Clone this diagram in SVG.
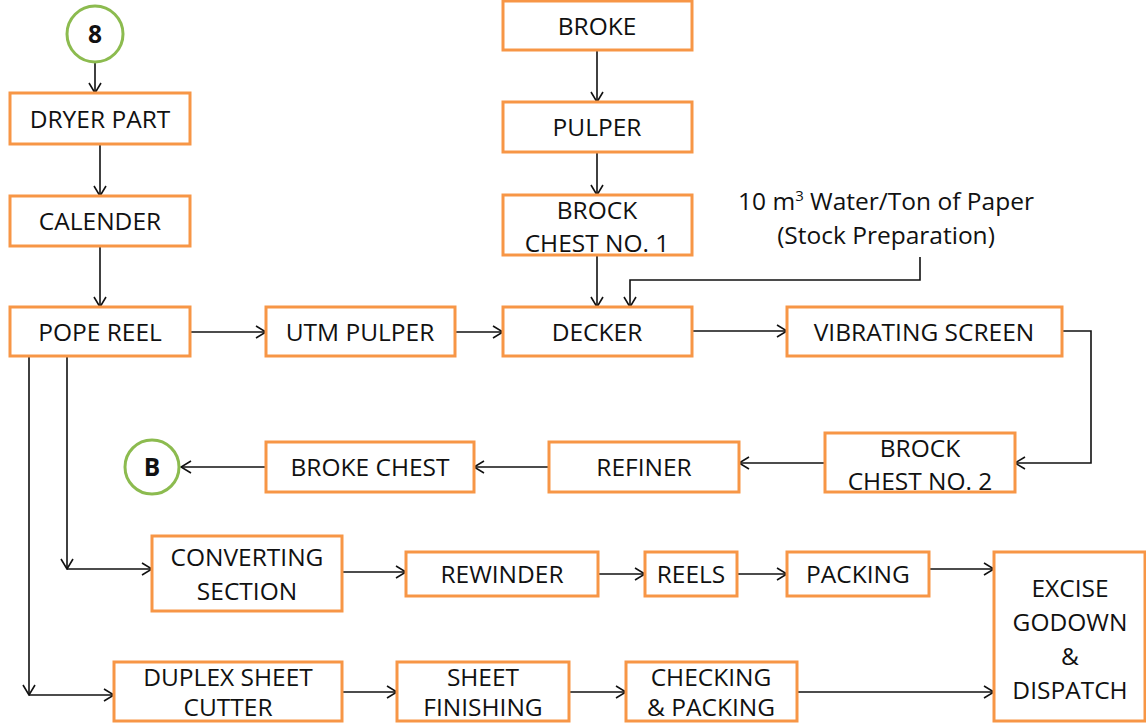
<svg xmlns="http://www.w3.org/2000/svg" width="1146" height="723" viewBox="0 0 1146 723">
<style>
.box{fill:#fff;stroke:#f79646;stroke-width:3}
.circ{fill:#fff;stroke:#8cbb4f;stroke-width:3}
text{font-family:"Open Sans","Liberation Sans",sans-serif;font-size:24.5px;fill:#111;text-anchor:middle}
.b{font-weight:bold}
.c path{fill:none;stroke:#111;stroke-width:1.6}
</style>
<defs>
<marker id="a" viewBox="0 0 12 14" refX="11" refY="7" markerWidth="12" markerHeight="14" markerUnits="userSpaceOnUse" orient="auto">
<path d="M1,1 L11,7 L1,13" fill="none" stroke="#111" stroke-width="1.6"/>
</marker>
</defs>
<g class="c">
<path d="M95,62 V93" marker-end="url(#a)"/>
<path d="M100,144 V196" marker-end="url(#a)"/>
<path d="M100,246 V307" marker-end="url(#a)"/>
<path d="M190,332 H266" marker-end="url(#a)"/>
<path d="M455,332 H503" marker-end="url(#a)"/>
<path d="M692,331 H787" marker-end="url(#a)"/>
<path d="M1062,331 H1091 V463 H1015" marker-end="url(#a)"/>
<path d="M825,463 H739" marker-end="url(#a)"/>
<path d="M549,467 H474" marker-end="url(#a)"/>
<path d="M266,467 H181" marker-end="url(#a)"/>
<path d="M597,50 V102" marker-end="url(#a)"/>
<path d="M597,152 V195" marker-end="url(#a)"/>
<path d="M597,255 V307" marker-end="url(#a)"/>
<path d="M920,257 V280 H630 V307" marker-end="url(#a)"/>
<path d="M67,356 V569" marker-end="url(#a)"/>
<path d="M67,569 H152" marker-end="url(#a)"/>
<path d="M29,356 V695" marker-end="url(#a)"/>
<path d="M29,695 H114" marker-end="url(#a)"/>
<path d="M342,572 H406" marker-end="url(#a)"/>
<path d="M598,574 H645" marker-end="url(#a)"/>
<path d="M737,574 H787" marker-end="url(#a)"/>
<path d="M929,569 H994" marker-end="url(#a)"/>
<path d="M342,692 H397" marker-end="url(#a)"/>
<path d="M569,692 H626" marker-end="url(#a)"/>
<path d="M797,692 H994" marker-end="url(#a)"/>
</g>
<g id="n8"><circle class="circ" cx="95" cy="34" r="28"/><text class="b" x="95" y="43">8</text></g>
<g id="dryer"><rect class="box" x="10" y="93" width="180" height="51"/><text x="100" y="128">DRYER PART</text></g>
<g id="calender"><rect class="box" x="10" y="196" width="180" height="50"/><text x="100" y="230">CALENDER</text></g>
<g id="pope"><rect class="box" x="10" y="307" width="180" height="49"/><text x="100" y="341">POPE REEL</text></g>
<g id="utm"><rect class="box" x="266" y="307" width="189" height="49"/><text x="360" y="341">UTM PULPER</text></g>
<g id="decker"><rect class="box" x="503" y="307" width="189" height="49"/><text x="597" y="341">DECKER</text></g>
<g id="vib"><rect class="box" x="787" y="307" width="275" height="49"/><text x="924" y="341">VIBRATING SCREEN</text></g>
<g id="broke"><rect class="box" x="503" y="1" width="189" height="49"/><text x="597" y="35">BROKE</text></g>
<g id="pulper"><rect class="box" x="503" y="102" width="189" height="50"/><text x="597" y="136">PULPER</text></g>
<g id="bc1"><rect class="box" x="503" y="195" width="189" height="60"/><text x="597" y="219">BROCK</text><text x="597" y="252">CHEST NO. 1</text></g>
<g id="water"><text x="886" y="210">10 m<tspan font-size="15" dy="-9">3</tspan><tspan dy="9"> Water/Ton of Paper</tspan></text><text x="886" y="244">(Stock Preparation)</text></g>
<g id="bc2"><rect class="box" x="825" y="433" width="190" height="59"/><text x="920" y="457">BROCK</text><text x="920" y="490">CHEST NO. 2</text></g>
<g id="refiner"><rect class="box" x="549" y="442" width="190" height="50"/><text x="644" y="476">REFINER</text></g>
<g id="brokechest"><rect class="box" x="266" y="442" width="208" height="50"/><text x="370" y="476">BROKE CHEST</text></g>
<g id="nB"><circle class="circ" cx="152" cy="467" r="27"/><text class="b" x="152" y="476">B</text></g>
<g id="conv"><rect class="box" x="152" y="536" width="190" height="75"/><text x="247" y="566">CONVERTING</text><text x="247" y="600">SECTION</text></g>
<g id="rewinder"><rect class="box" x="406" y="552" width="192" height="44"/><text x="502" y="583">REWINDER</text></g>
<g id="reels"><rect class="box" x="645" y="552" width="92" height="44"/><text x="691" y="583">REELS</text></g>
<g id="packing"><rect class="box" x="787" y="552" width="142" height="44"/><text x="858" y="583">PACKING</text></g>
<g id="excise"><rect class="box" x="994" y="552" width="151" height="169"/><text x="1070" y="597">EXCISE</text><text x="1070" y="631">GODOWN</text><text x="1070" y="665">&amp;</text><text x="1070" y="699">DISPATCH</text></g>
<g id="duplex"><rect class="box" x="114" y="662" width="228" height="59"/><text x="228" y="686">DUPLEX SHEET</text><text x="228" y="716">CUTTER</text></g>
<g id="sheet"><rect class="box" x="397" y="662" width="172" height="59"/><text x="483" y="686">SHEET</text><text x="483" y="716">FINISHING</text></g>
<g id="checking"><rect class="box" x="626" y="662" width="171" height="59"/><text x="711" y="686">CHECKING</text><text x="711" y="716">&amp; PACKING</text></g>
</svg>
